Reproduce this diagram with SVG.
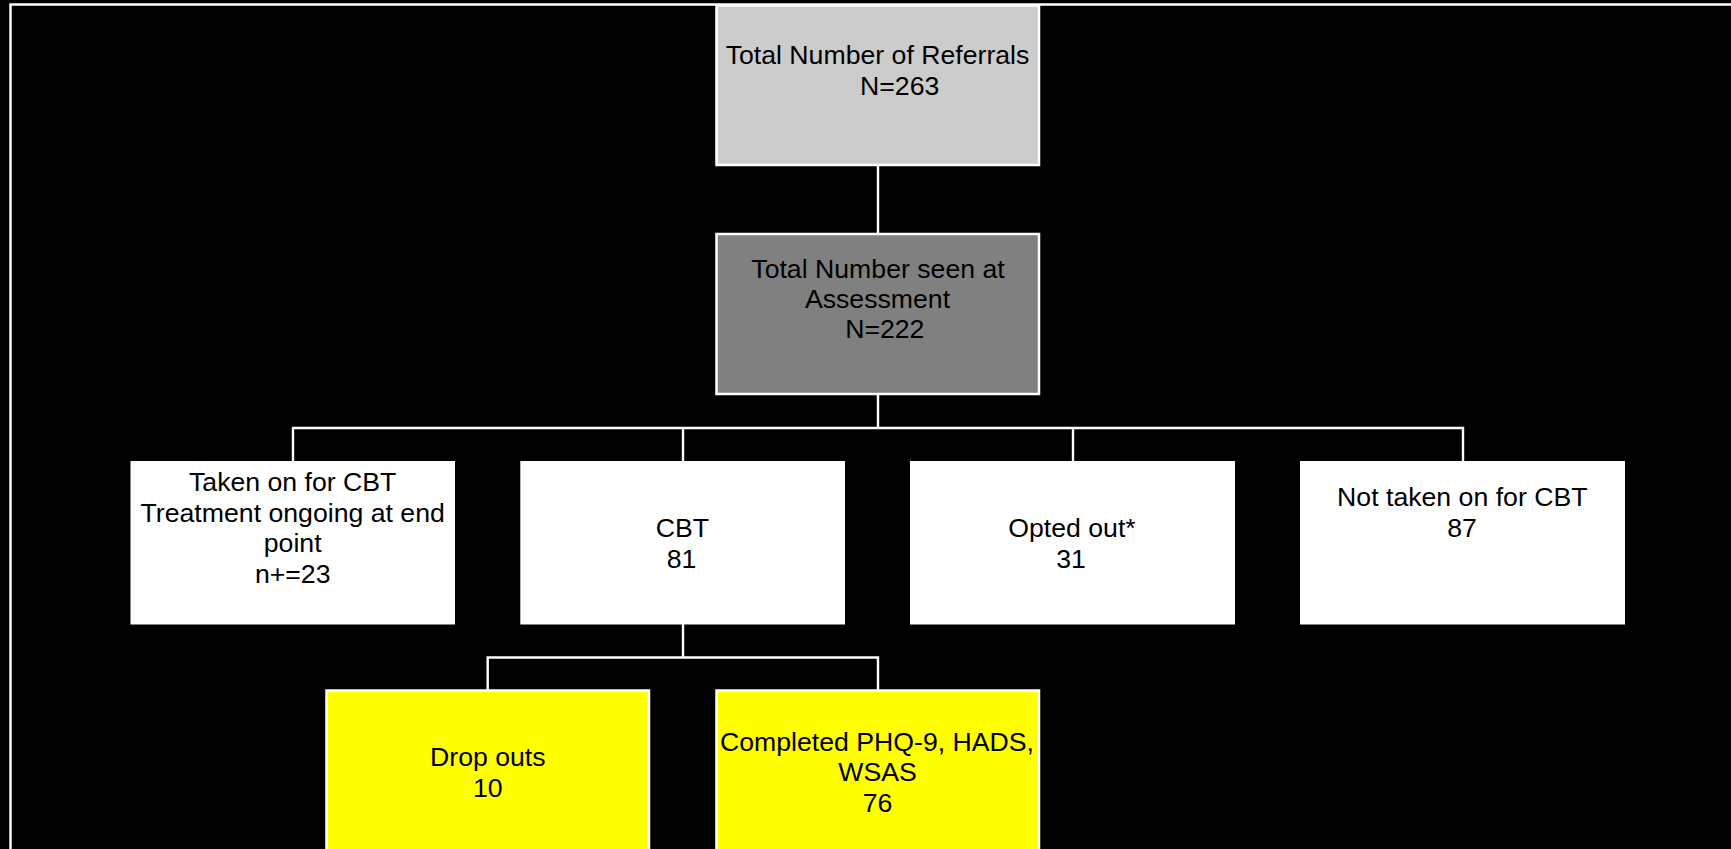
<svg xmlns="http://www.w3.org/2000/svg" width="1731" height="849" viewBox="0 0 1731 849">
<style>
.t{font-family:"Liberation Sans",Arial,sans-serif;font-size:26.67px;fill:#000;text-anchor:middle}
.c{stroke:#fff;stroke-width:2.4;fill:none}
.b{stroke:#fff;stroke-width:2.5}
</style>
<rect x="0" y="0" width="1731" height="849" fill="#000"/>
<g id="frame">
<path class="c" d="M10.5,849 V4.5 H1731"/>
</g>
<g id="connectors">
<path class="c" d="M878,165 V234"/>
<path class="c" d="M878,394 V428"/>
<path class="c" d="M293,461 V428 H1463 V461"/>
<path class="c" d="M683,428 V461"/>
<path class="c" d="M1073,428 V461"/>
<path class="c" d="M683,624 V657.5"/>
<path class="c" d="M487.7,690.5 V657.5 H878 V690.5"/>
</g>
<g id="n_referrals">
<rect class="b" x="716.5" y="5.5" width="322.5" height="159.5" fill="#cccccc"/>
<text class="t" x="877.5" y="64">Total Number of Referrals</text>
<text class="t" x="899.7" y="95">N=263</text>
</g>
<g id="n_assessment">
<rect class="b" x="716.5" y="234" width="322.5" height="160" fill="#808080"/>
<text class="t" x="878" y="278.3">Total Number seen at</text>
<text class="t" x="877.5" y="307.7">Assessment</text>
<text class="t" x="884.8" y="338.3">N=222</text>
</g>
<g id="n_ongoing">
<rect x="130.5" y="461" width="324.5" height="163.5" fill="#fff"/>
<text class="t" x="292.7" y="491">Taken on for CBT</text>
<text class="t" x="292.7" y="521.7">Treatment ongoing at end</text>
<text class="t" x="292.7" y="552">point</text>
<text class="t" x="292.7" y="583.3">n+=23</text>
</g>
<g id="n_cbt">
<rect x="520.3" y="461" width="324.7" height="163.5" fill="#fff"/>
<text class="t" x="682.5" y="537.3">CBT</text>
<text class="t" x="681.5" y="568.3">81</text>
</g>
<g id="n_opted">
<rect x="910" y="461" width="325" height="163.5" fill="#fff"/>
<text class="t" x="1072" y="537.3">Opted out*</text>
<text class="t" x="1071" y="568.3">31</text>
</g>
<g id="n_not_taken">
<rect x="1300" y="461" width="325" height="163.5" fill="#fff"/>
<text class="t" x="1462.3" y="506">Not taken on for CBT</text>
<text class="t" x="1462" y="536.7">87</text>
</g>
<g id="n_dropouts">
<rect class="b" x="326.5" y="690.5" width="322.5" height="170" fill="#ffff00"/>
<text class="t" x="487.8" y="765.8">Drop outs</text>
<text class="t" x="487.8" y="796.7">10</text>
</g>
<g id="n_completed">
<rect class="b" x="716.5" y="690.5" width="322.5" height="170" fill="#ffff00"/>
<text class="t" x="877" y="750.7">Completed PHQ-9, HADS,</text>
<text class="t" x="877.5" y="780.7">WSAS</text>
<text class="t" x="877.5" y="811.7">76</text>
</g>
</svg>
